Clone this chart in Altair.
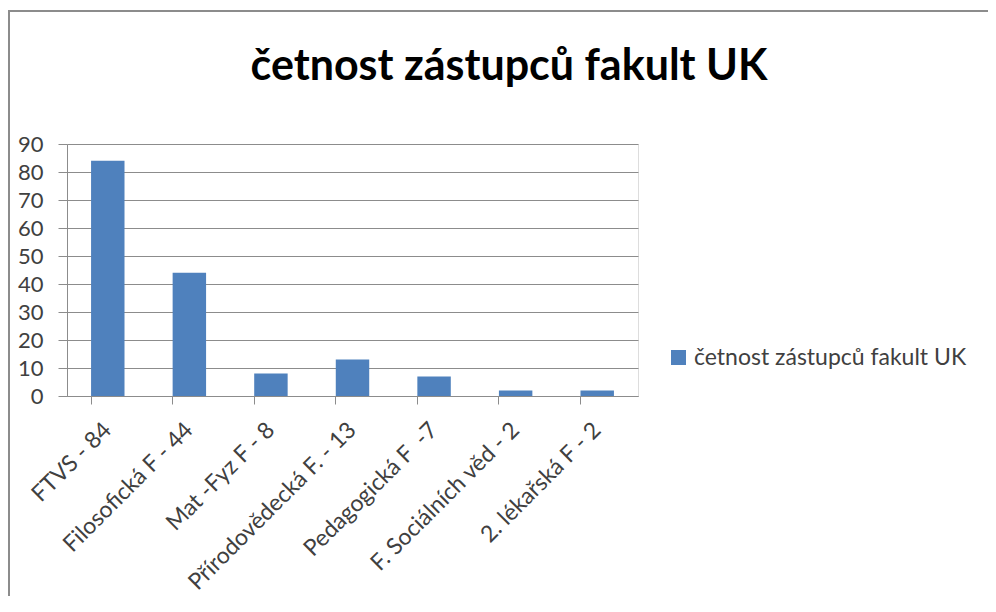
import altair as alt
import pandas as pd

categories = ["FTVS - 84", "Filosofická F - 44", "Mat -Fyz F - 8", "Přírodovědecká F. - 13",
              "Pedagogická F\u2002-7", "F. Sociálních věd - 2", "2. lékařská F - 2"]
values = [84, 44, 8, 13, 7, 2, 2]
series_name = "četnost zástupců fakult UK"
title_text = "četnost zástupců fakult UK"
y_ticks = [0, 10, 20, 30, 40, 50, 60, 70, 80, 90]

df = pd.DataFrame({"cat": categories, "val": values, "series": [series_name] * len(values)})

FONT = "Lato"
GRID = "#8c8c8c"
TXT = "#404040"
W, H = 571, 252

bars = alt.Chart(df).mark_bar(color="#4F81BD").encode(
    x=alt.X("cat:N", sort=categories, title=None,
            scale=alt.Scale(paddingInner=0.59, paddingOuter=0.295),
            axis=alt.Axis(labelAngle=-45, labelAlign="right", labelBaseline="middle",
                          labelFontSize=23, labelColor=TXT, labelFont=FONT,
                          labelPadding=22, tickSize=8, bandPosition=0,
                          domainColor=GRID, tickColor=GRID, labelLimit=400)),
    y=alt.Y("val:Q", title=None,
            scale=alt.Scale(domain=[0, 90], nice=False),
            axis=alt.Axis(values=y_ticks, labelFontSize=22, labelColor=TXT, labelFont=FONT,
                          tickSize=9, labelPadding=15, domainColor=GRID, tickColor=GRID,
                          gridColor=GRID, gridOpacity=1, grid=True)),
    color=alt.Color("series:N", scale=alt.Scale(range=["#4F81BD"]),
                    legend=alt.Legend(title=None, orient="none", legendX=600, legendY=202,
                                      symbolType="square", symbolSize=225,
                                      symbolStrokeWidth=0, labelFontSize=23,
                                      labelColor=TXT, labelFont=FONT, labelLimit=400,
                                      labelOffset=4)),
)

tdf = pd.DataFrame({"t": [title_text]})
title = alt.Chart(tdf).mark_text(font=FONT, fontSize=43, fontWeight="bold", color="black",
                                 align="center", baseline="alphabetic").encode(
    x=alt.value(442), y=alt.value(-64), text="t:N")

border_v = alt.Chart(tdf).mark_rule(color=GRID, strokeWidth=2).encode(
    x=alt.value(-58), y=alt.value(-133), y2=alt.value(500))
border_h = alt.Chart(tdf).mark_rule(color=GRID, strokeWidth=2).encode(
    x=alt.value(-59), x2=alt.value(960), y=alt.value(-133))

chart = alt.layer(bars, title, border_v, border_h).properties(
    width=W, height=H,
    autosize=alt.AutoSizeParams(type="none"),
    padding={"left": 59, "top": 136, "right": 350, "bottom": 200},
).configure_view(stroke=None).configure(background="white")

chart.save("out.html", embed_options={"renderer": "svg", "actions": False})
